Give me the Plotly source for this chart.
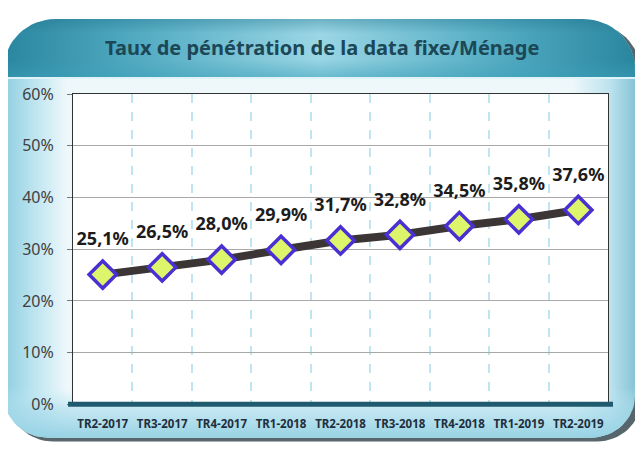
import math
import plotly.graph_objects as go

categories = ["TR2-2017", "TR3-2017", "TR4-2017", "TR1-2018", "TR2-2018",
              "TR3-2018", "TR4-2018", "TR1-2019", "TR2-2019"]
values = [25.1, 26.5, 28.0, 29.9, 31.7, 32.8, 34.5, 35.8, 37.6]
labels = ["25,1%", "26,5%", "28,0%", "29,9%", "31,7%", "32,8%", "34,5%", "35,8%", "37,6%"]
y_ticks = [0, 10, 20, 30, 40, 50, 60]
y_tick_text = ["0%", "10%", "20%", "30%", "40%", "50%", "60%"]
title_text = "Taux de pénétration de la data fixe/Ménage"

W, H = 643, 454
OFF = 8  # page body margin: figure pixel = screen pixel - OFF
L, R, T, B = 73 - OFF, 608 - OFF, 87 - OFF, 413 - OFF


def rounded(x0, y0, x1, y1, rt, rb):
    """Polygon (screen px, y down) of a rectangle with top radius rt, bottom radius rb."""
    x0, y0, x1, y1 = x0 - OFF, y0 - OFF, x1 - OFF, y1 - OFF
    pts = []
    n = 16
    def arc(cx, cy, r, a0, a1):
        for i in range(n + 1):
            a = math.radians(a0 + (a1 - a0) * i / n)
            pts.append((cx + r * math.cos(a), cy + r * math.sin(a)))
    if rt > 0:
        arc(x0 + rt, y0 + rt, rt, 180, 270)
        arc(x1 - rt, y0 + rt, rt, 270, 360)
    else:
        pts += [(x0, y0), (x1, y0)]
    if rb > 0:
        arc(x1 - rb, y1 - rb, rb, 0, 90)
        arc(x0 + rb, y1 - rb, rb, 90, 180)
    else:
        pts += [(x1, y1), (x0, y1)]
    pts.append(pts[0])
    xs = [p[0] for p in pts]
    ys = [H - p[1] for p in pts]
    return xs, ys


def bg_poly(poly, **kw):
    xs, ys = poly
    return go.Scatter(x=xs, y=ys, mode="lines", fill="toself", line=dict(width=0),
                      hoverinfo="skip", showlegend=False, xaxis="x", yaxis="y", **kw)


fig = go.Figure()
# shadow
fig.add_trace(bg_poly(rounded(9, 12, 641, 452, 52, 44), fillcolor="#56666c"))
# panel body (horizontal gradient)
body = rounded(4, 8, 635, 448, 52, 44)
fig.add_trace(bg_poly(body, fillgradient=dict(type="horizontal", colorscale=[
    [0, "#8fcfe1"], [0.05, "#bfe5f0"], [0.1, "#eef8fb"], [0.9, "#eef8fb"],
    [0.96, "#bde3ee"], [1, "#86c4d6"]])))
# bottom vertical gradient overlay
fig.add_trace(bg_poly(body, fillgradient=dict(type="vertical", colorscale=[
    [0, "rgba(150,210,228,1)"], [0.07, "rgba(170,220,235,0.6)"],
    [0.12, "rgba(200,235,245,0)"], [1, "rgba(200,235,245,0)"]])))
# header
header = rounded(4, 8, 635, 69, 52, 0)
fig.add_trace(bg_poly(header, fillgradient=dict(type="horizontal", colorscale=[
    [0, "#2a869f"], [0.2, "#4fa9c0"], [0.5, "#9ad6e5"], [0.8, "#4fa9c0"], [1, "#2a869f"]])))
fig.add_trace(bg_poly(header, fillgradient=dict(type="vertical", colorscale=[
    [0, "rgba(60,160,185,0.5)"], [0.3, "rgba(60,160,185,0)"],
    [0.75, "rgba(30,110,135,0)"], [1, "rgba(30,110,135,0.35)"]])))
# header separator
fig.add_trace(go.Scatter(x=[4 - OFF, 635 - OFF], y=[H - 70 + OFF, H - 70 + OFF], mode="lines",
                         line=dict(color="#dff3f8", width=2), hoverinfo="skip",
                         showlegend=False, xaxis="x", yaxis="y"))
# plot area white
fig.add_trace(bg_poly(rounded(73, 87, 608, 413, 0, 0), fillcolor="white"))

# data
fig.add_trace(go.Scatter(
    x=categories, y=values, mode="lines+markers", xaxis="x2", yaxis="y2",
    line=dict(color="#3b3535", width=8),
    marker=dict(symbol="diamond", size=21, color="#dcf56a",
                line=dict(color="#4a2fd2", width=3.5)),
    hoverinfo="skip", showlegend=False,
))
fig.add_trace(go.Scatter(
    x=categories, y=[v + 6.5 for v in values], mode="text", text=labels,
    textposition="middle center", xaxis="x2", yaxis="y2", cliponaxis=False,
    textfont=dict(family="Noto Sans", size=18, color="#1c1c1c", weight="bold"),
    hoverinfo="skip", showlegend=False,
))

fig.update_layout(
    width=W, height=H, autosize=False,
    margin=dict(l=0, r=0, t=0, b=0),
    paper_bgcolor="white", plot_bgcolor="rgba(0,0,0,0)",
    xaxis=dict(domain=[0, 1], range=[0, W], visible=False, fixedrange=True),
    yaxis=dict(domain=[0, 1], range=[0, H], visible=False, fixedrange=True),
    xaxis2=dict(
        domain=[L / W, R / W], anchor="y2", type="category", tickson="boundaries",
        showgrid=True, gridcolor="#bfe6f0", griddash="dash", gridwidth=1.5,
        ticks="", showline=True, linecolor="#333333", linewidth=1, mirror=True,
        tickfont=dict(family="Noto Sans", size=11.5, color="#1e2e3c", weight="bold"),
        ticklabelstandoff=9, range=[-0.5, 8.5], fixedrange=True,
    ),
    yaxis2=dict(
        domain=[(H - B) / H, (H - T) / H], anchor="x2",
        range=[0, 60], tickvals=y_ticks, ticktext=y_tick_text,
        showgrid=True, gridcolor="#a8a8a8", gridwidth=1, zeroline=False,
        showline=True, linecolor="#333333", linewidth=1, mirror=True,
        ticks="outside", ticklen=5, tickcolor="#777777", ticklabelstandoff=10,
        tickfont=dict(family="Noto Sans", size=16, color="#404040"),
        fixedrange=True,
    ),
    shapes=[dict(type="line", x0=(68 - OFF) / W, x1=(613 - OFF) / W,
                 y0=(H - B) / H, y1=(H - B) / H,
                 xref="paper", yref="paper", line=dict(color="#1f5a6e", width=5),
                 layer="above")],
    annotations=[dict(text=f"<b>{title_text}</b>", x=(322 - OFF) / W, y=1 - (38 - OFF) / H,
                      xref="paper", yref="paper", xanchor="center", yanchor="middle",
                      showarrow=False,
                      font=dict(family="Noto Sans", size=20, color="#1b4756"))],
)

fig.write_html("out.html", config={"displayModeBar": False})
